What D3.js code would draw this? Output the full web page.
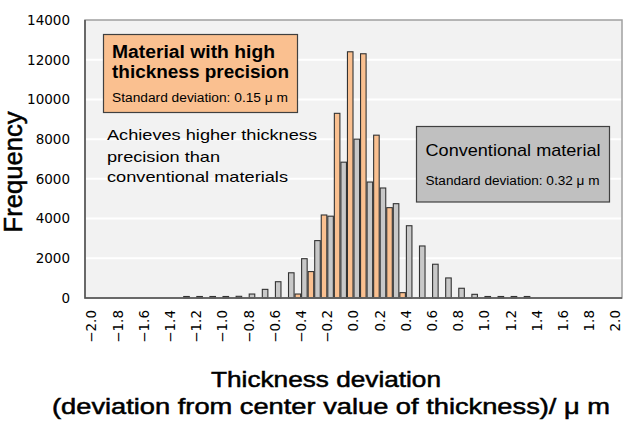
<!DOCTYPE html>
<html>
<head>
<meta charset="utf-8">
<script src="https://cdn.jsdelivr.net/npm/d3@7"></script>
<style>
  body { margin: 0; background: #fff; }
  svg text { font-family: "Liberation Sans", Arial, sans-serif; fill: #000; }
  .tick-label { font-family: "DejaVu Sans", sans-serif; font-size: 13px; }
  .title { stroke: #000; stroke-width: 0.5px; }
</style>
</head>
<body>
<div id="chart"></div>
<script>
// Kategorier (tjockleksavvikelse, µm)
const categories = ["-2.0","-1.9","-1.8","-1.7","-1.6","-1.5","-1.4","-1.3","-1.2","-1.1",
                    "-1.0","-0.9","-0.8","-0.7","-0.6","-0.5","-0.4","-0.3","-0.2","-0.1",
                    "0.0","0.1","0.2","0.3","0.4","0.5","0.6","0.7","0.8","0.9",
                    "1.0","1.1","1.2","1.3","1.4","1.5","1.6","1.7","1.8","1.9","2.0"];

// Frekvens: material med hög tjockleksprecision
const highPrecision = [0,0,0,0,0,0,0,0,0,0,
                       0,0,0,0,0,0,200,1330,4180,9300,
                       12400,12300,8200,4550,270,0,0,0,0,0,
                       0,0,0,0,0,0,0,0,0,0,0];

// Frekvens: konventionellt material
const conventional = [0,0,0,0,0,0,0,20,20,20,
                      50,85,200,435,820,1270,1980,2890,4120,6840,
                      8000,5840,5540,4750,3640,2620,1700,1010,490,185,
                      65,20,20,20,0,0,0,0,0,0,0];

const seriesNames = ["high", "conv"];
const seriesColors = { high: "#fac090", conv: "#c8c8c8" };

const xTickLabels = ["-2.0","-1.8","-1.6","-1.4","-1.2","-1.0","-0.8","-0.6","-0.4","-0.2",
                     "0.0","0.2","0.4","0.6","0.8","1.0","1.2","1.4","1.6","1.8","2.0"];
const yTicks = [0, 2000, 4000, 6000, 8000, 10000, 12000, 14000];

function createHistogram() {
    const W = 638, H = 424;
    const plot = { left: 85, right: 622, top: 20, bottom: 298 };

    const svg = d3.select("#chart").append("svg")
        .attr("width", W)
        .attr("height", H);

    // Skalor
    const x = d3.scaleBand()
        .domain(categories)
        .range([plot.left, plot.right])
        .padding(0);

    const xs = d3.scaleBand()
        .domain(seriesNames)
        .range([0, x.bandwidth()])
        .padding(0);

    const y = d3.scaleLinear()
        .domain([0, 14000])
        .range([plot.bottom, plot.top]);

    // Bakgrund
    svg.append("rect")
        .attr("x", plot.left).attr("y", plot.top)
        .attr("width", plot.right - plot.left)
        .attr("height", plot.bottom - plot.top)
        .attr("fill", "#f2f2f2");

    // Stödlinjer
    svg.append("g")
        .selectAll("line")
        .data(yTicks.filter(d => d > 0 && d < 14000))
        .enter().append("line")
        .attr("x1", plot.left).attr("x2", plot.right)
        .attr("y1", d => y(d)).attr("y2", d => y(d))
        .attr("stroke", "#fff")
        .attr("stroke-width", 2);

    // Staplar
    const rows = [];
    categories.forEach((c, i) => {
        rows.push({ cat: c, s: "high", v: highPrecision[i] });
        rows.push({ cat: c, s: "conv", v: conventional[i] });
    });

    svg.append("g")
        .selectAll("rect")
        .data(rows.filter(d => d.v > 0))
        .enter().append("rect")
        .attr("x", d => x(d.cat) + xs(d.s) + 0.5)
        .attr("width", xs.bandwidth() - 1)
        .attr("y", d => Math.min(y(d.v), plot.bottom - 1.5))
        .attr("height", d => Math.max(plot.bottom - y(d.v), 1.5))
        .attr("fill", d => seriesColors[d.s])
        .attr("stroke", "#333")
        .attr("stroke-width", 1.1);

    // Ram
    svg.append("rect")
        .attr("x", plot.left).attr("y", plot.top)
        .attr("width", plot.right - plot.left)
        .attr("height", plot.bottom - plot.top)
        .attr("fill", "none")
        .attr("stroke", "#a0a0a0")
        .attr("stroke-width", 1.5);
    svg.append("path")
        .attr("d", `M${plot.left},${plot.top}V${plot.bottom}H${plot.right}`)
        .attr("fill", "none")
        .attr("stroke", "#505050")
        .attr("stroke-width", 1.5);

    // y-axel etiketter
    const yAxis = svg.append("g")
        .attr("transform", `translate(${plot.left},0)`)
        .call(d3.axisLeft(y).tickValues(yTicks).tickSize(0).tickPadding(15).tickFormat(d3.format("d")));
    yAxis.select(".domain").remove();
    yAxis.selectAll("text")
        .attr("class", "tick-label")
        .style("font-size", "13.5px")
        .style("font-family", "'DejaVu Sans', sans-serif");

    // x-axel etiketter (roterade)
    svg.append("g")
        .selectAll("text")
        .data(xTickLabels)
        .enter().append("text")
        .attr("class", "tick-label")
        .attr("transform", d => `translate(${x(d) + x.bandwidth() / 2},310) rotate(-90)`)
        .attr("dy", "0.36em")
        .attr("text-anchor", "end")
        .style("font-size", "13.5px")
        .text(d => d.replace("-", "\u2212"));

    // Axeltitlar
    svg.append("text")
        .attr("class", "title")
        .attr("transform", "translate(22,172) rotate(-90)")
        .attr("text-anchor", "middle")
        .attr("textLength", 121)
        .attr("lengthAdjust", "spacingAndGlyphs")
        .style("font-size", "25px")
        .text("Frequency");

    svg.append("text")
        .attr("class", "title")
        .attr("x", 326).attr("y", 387)
        .attr("text-anchor", "middle")
        .attr("textLength", 230)
        .attr("lengthAdjust", "spacingAndGlyphs")
        .style("font-size", "22px")
        .text("Thickness deviation");

    svg.append("text")
        .attr("class", "title")
        .attr("x", 331).attr("y", 414)
        .attr("text-anchor", "middle")
        .attr("textLength", 558)
        .attr("lengthAdjust", "spacingAndGlyphs")
        .style("font-size", "22px")
        .text("(deviation from center value of thickness)/ \u03bc m");

    // Förklaringsrutor
    function label(t, xPos, yPos, size, len, weight) {
        svg.append("text")
            .attr("x", xPos).attr("y", yPos)
            .attr("textLength", len)
            .attr("lengthAdjust", "spacingAndGlyphs")
            .style("font-size", size + "px")
            .style("font-weight", weight || "normal")
            .text(t);
    }

    svg.append("rect")
        .attr("x", 103.5).attr("y", 34.5)
        .attr("width", 194).attr("height", 78)
        .attr("fill", seriesColors.high)
        .attr("stroke", "#404040").attr("stroke-width", 1.2);
    label("Material with high", 112, 58, 17.5, 163, "bold");
    label("thickness precision", 112, 78, 17.5, 177, "bold");
    label("Standard deviation: 0.15 \u03bc m", 112, 102, 12.5, 176);

    label("Achieves higher thickness", 107, 140, 15, 210);
    label("precision than", 107, 161.5, 15, 113);
    label("conventional materials", 107, 181.5, 15, 181);

    svg.append("rect")
        .attr("x", 416.5).attr("y", 126.5)
        .attr("width", 193).attr("height", 75.5)
        .attr("fill", "#c0c0c0")
        .attr("stroke", "#404040").attr("stroke-width", 1.2);
    label("Conventional material", 425.5, 156, 17, 175);
    label("Standard deviation: 0.32 \u03bc m", 425.5, 184.5, 12.5, 174);
}

createHistogram();
</script>
</body>
</html>
